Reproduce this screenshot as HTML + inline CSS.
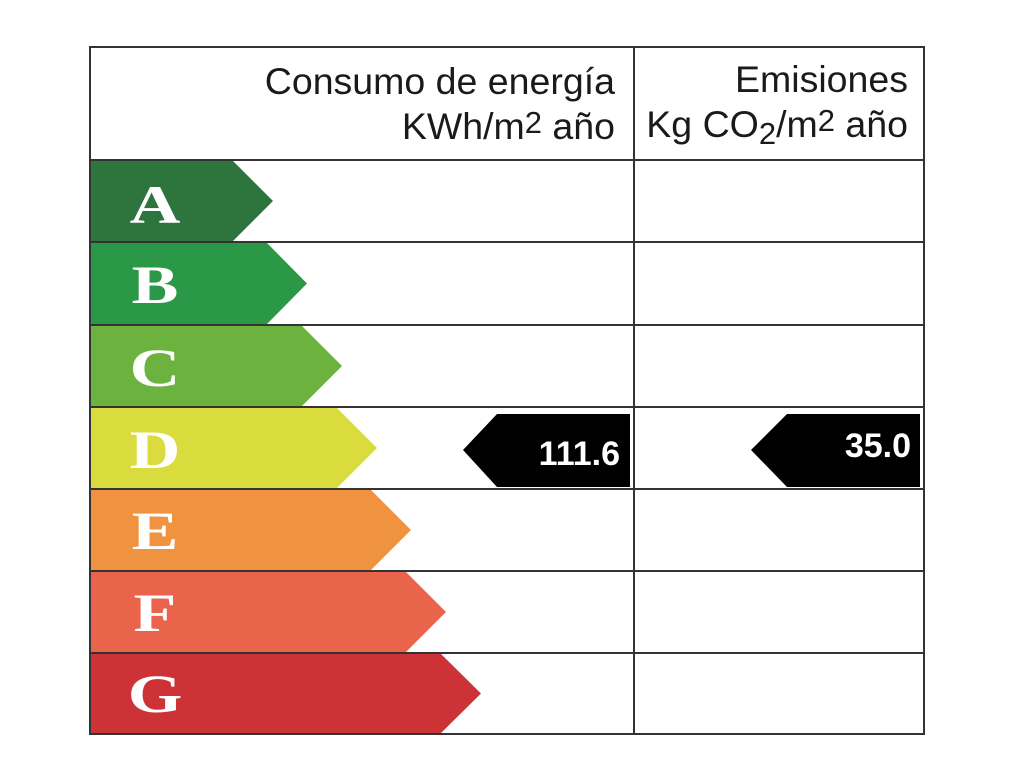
<!DOCTYPE html>
<html><head><style>body{margin:0;background:#fff}svg{display:block}</style></head><body>
<svg width="1020" height="765" viewBox="0 0 1020 765" xmlns="http://www.w3.org/2000/svg" font-family="Liberation Sans, sans-serif">
<rect width="1020" height="765" fill="#fff"/>
<g>
<polygon points="90,160 232,160 273,201 232,242 90,242" fill="#2e743d"/>
<polygon points="90,242 266,242 307,283.5 266,325 90,325" fill="#2a9847"/>
<polygon points="90,325 301,325 342,366 301,407 90,407" fill="#6cb23f"/>
<polygon points="90,407 336,407 377,448 336,489 90,489" fill="#d9dc3c"/>
<polygon points="90,489 370,489 411,530 370,571 90,571" fill="#ef9340"/>
<polygon points="90,571 405,571 446,612 405,653 90,653" fill="#ea634b"/>
<polygon points="90,653 440,653 481,693.5 440,734 90,734" fill="#cc3236"/>
</g>
<g fill="#fff" font-family="Liberation Serif, serif" font-weight="bold" font-size="54" text-anchor="middle">
<text x="155" y="223" transform="translate(155 0) scale(1.3 1) translate(-155 0)">A</text>
<text x="155" y="303" transform="translate(155 0) scale(1.3 1) translate(-155 0)">B</text>
<text x="155" y="386" transform="translate(155 0) scale(1.3 1) translate(-155 0)">C</text>
<text x="155" y="468" transform="translate(155 0) scale(1.3 1) translate(-155 0)">D</text>
<text x="155" y="549" transform="translate(155 0) scale(1.3 1) translate(-155 0)">E</text>
<text x="155" y="631" transform="translate(155 0) scale(1.3 1) translate(-155 0)">F</text>
<text x="155" y="712" transform="translate(155 0) scale(1.3 1) translate(-155 0)">G</text>
</g>
<g stroke="#333" stroke-width="2" fill="none">
<rect x="90" y="47" width="834" height="687"/>
<line x1="634" y1="47" x2="634" y2="734"/>
<line x1="90" y1="160" x2="924" y2="160"/>
<line x1="90" y1="242" x2="924" y2="242"/>
<line x1="90" y1="325" x2="924" y2="325"/>
<line x1="90" y1="407" x2="924" y2="407"/>
<line x1="90" y1="489" x2="924" y2="489"/>
<line x1="90" y1="571" x2="924" y2="571"/>
<line x1="90" y1="653" x2="924" y2="653"/>
</g>
<polygon points="463,450 497,414 630,414 630,487 497,487" fill="#000"/>
<polygon points="751,450 787,414 920,414 920,487 787,487" fill="#000"/>
<text x="620" y="465" fill="#fff" font-size="34" font-weight="bold" text-anchor="end">111.6</text>
<text x="911" y="457" fill="#fff" font-size="34" font-weight="bold" text-anchor="end">35.0</text>
<g fill="#1a1a1a" font-size="37.5" text-anchor="end">
<text x="615" y="94">Consumo de energía</text>
<text x="615" y="139">KWh/m<tspan font-size="31" dy="-6">2</tspan><tspan dy="6"> año</tspan></text>
<text x="908" y="92">Emisiones</text>
<text x="908" y="137">Kg CO<tspan font-size="31" dy="7">2</tspan><tspan dy="-7">/m</tspan><tspan font-size="31" dy="-6">2</tspan><tspan dy="6"> año</tspan></text>
</g>
</svg>
</body></html>
